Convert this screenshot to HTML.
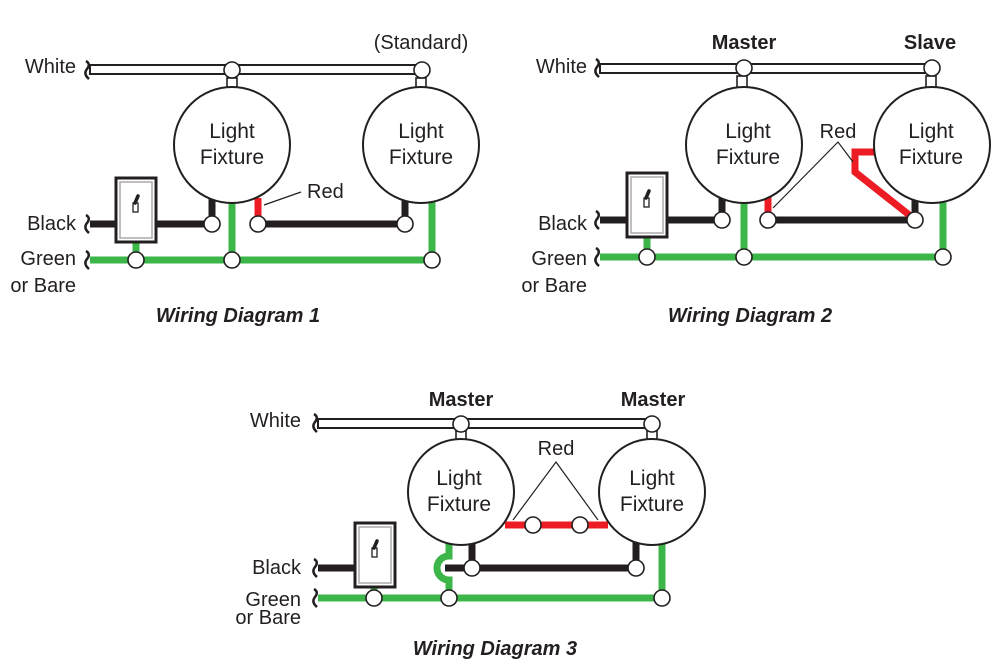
<!DOCTYPE html>
<html><head><meta charset="utf-8"><style>
html,body{margin:0;padding:0;background:#fff;}
svg{display:block;}
text{font-family:"Liberation Sans",sans-serif;fill:#231f20;}
.l{font-size:20px;}
.f{font-size:21px;}
.b{font-size:20px;font-weight:bold;}
.t{font-size:20px;font-weight:bold;font-style:italic;}
.n{fill:#fff;stroke:#231f20;stroke-width:1.6;}
.bk{stroke:#231f20;stroke-width:7;fill:none;}
.gr{stroke:#3db649;stroke-width:7;fill:none;}
.rd{stroke:#ed1c24;stroke-width:7;fill:none;}
.c{fill:#fff;stroke:#231f20;stroke-width:2;}
.sq{fill:none;stroke:#231f20;stroke-width:2.5;}
.ld{stroke:#231f20;stroke-width:1.2;fill:none;}
</style></head><body>
<svg width="1006" height="662" viewBox="0 0 1006 662" xmlns="http://www.w3.org/2000/svg">
<defs>
<g id="sw">
<rect x="0" y="0" width="40" height="64" fill="#fff" stroke="#231f20" stroke-width="3"/>
<rect x="4" y="4" width="32" height="56" fill="none" stroke="#aaa" stroke-width="1.5"/>
<rect x="17" y="25" width="5" height="9" fill="#fff" stroke="#231f20" stroke-width="1.3"/>
<path d="M19 25 L22 18" stroke="#231f20" stroke-width="3.5" stroke-linecap="round"/>
</g>
<path id="sqg" d="M-2,-9 q5,3 1,8 q-4,5 2,10" class="sq"/>
</defs>

<!-- ===== Diagram 1 ===== -->
<text class="l" x="76" y="73" text-anchor="end">White</text>
<text class="l" x="76" y="230" text-anchor="end">Black</text>
<text class="l" x="76" y="265" text-anchor="end">Green</text>
<text class="l" x="76" y="292" text-anchor="end">or Bare</text>
<text class="l" x="421" y="49" text-anchor="middle">(Standard)</text>
<rect x="90" y="65" width="332" height="9" fill="#fff" stroke="#231f20" stroke-width="2"/>
<rect x="227" y="78" width="10" height="12" fill="#fff" stroke="#231f20" stroke-width="1.6"/>
<rect x="416" y="78" width="10" height="12" fill="#fff" stroke="#231f20" stroke-width="1.6"/>
<use href="#sqg" x="88" y="70"/>
<line class="bk" x1="90" y1="224" x2="212" y2="224"/>
<line class="bk" x1="212" y1="195" x2="212" y2="224"/>
<line class="bk" x1="258" y1="224" x2="405" y2="224"/>
<line class="bk" x1="405" y1="195" x2="405" y2="224"/>
<line class="rd" x1="258" y1="198" x2="258" y2="218"/>
<line class="gr" x1="90" y1="260" x2="432" y2="260"/>
<line class="gr" x1="232" y1="200" x2="232" y2="260"/>
<line class="gr" x1="432" y1="190" x2="432" y2="260"/>
<line class="gr" x1="136" y1="240" x2="136" y2="260"/>
<use href="#sqg" x="88" y="224"/>
<use href="#sqg" x="88" y="260"/>
<circle class="c" cx="232" cy="145" r="58"/>
<circle class="c" cx="421" cy="145" r="58"/>
<text class="f" x="232" y="138" text-anchor="middle">Light</text>
<text class="f" x="232" y="164" text-anchor="middle">Fixture</text>
<text class="f" x="421" y="138" text-anchor="middle">Light</text>
<text class="f" x="421" y="164" text-anchor="middle">Fixture</text>
<use href="#sw" x="116" y="178"/>
<circle class="n" cx="232" cy="70" r="8"/>
<circle class="n" cx="422" cy="70" r="8"/>
<circle class="n" cx="212" cy="224" r="8"/>
<circle class="n" cx="258" cy="224" r="8"/>
<circle class="n" cx="405" cy="224" r="8"/>
<circle class="n" cx="136" cy="260" r="8"/>
<circle class="n" cx="232" cy="260" r="8"/>
<circle class="n" cx="432" cy="260" r="8"/>
<line class="ld" x1="264" y1="205" x2="301" y2="192"/>
<text class="l" x="307" y="198">Red</text>
<text class="t" x="238" y="322" text-anchor="middle">Wiring Diagram 1</text>

<!-- ===== Diagram 2 ===== -->
<text class="l" x="587" y="73" text-anchor="end">White</text>
<text class="l" x="587" y="230" text-anchor="end">Black</text>
<text class="l" x="587" y="265" text-anchor="end">Green</text>
<text class="l" x="587" y="292" text-anchor="end">or Bare</text>
<text class="b" x="744" y="49" text-anchor="middle">Master</text>
<text class="b" x="930" y="49" text-anchor="middle">Slave</text>
<rect x="600" y="64" width="332" height="9" fill="#fff" stroke="#231f20" stroke-width="2"/>
<rect x="737" y="76" width="10" height="12" fill="#fff" stroke="#231f20" stroke-width="1.6"/>
<rect x="926" y="76" width="10" height="12" fill="#fff" stroke="#231f20" stroke-width="1.6"/>
<use href="#sqg" x="598" y="68"/>
<line class="bk" x1="600" y1="220" x2="722" y2="220"/>
<line class="bk" x1="722" y1="192" x2="722" y2="220"/>
<line class="bk" x1="768" y1="220" x2="915" y2="220"/>
<line class="bk" x1="915" y1="192" x2="915" y2="220"/>
<line class="rd" x1="768" y1="195" x2="768" y2="214"/>
<path class="rd" d="M913,218 L855,172 L855,152 L878,152"/>
<line class="gr" x1="600" y1="257" x2="943" y2="257"/>
<line class="gr" x1="744" y1="198" x2="744" y2="257"/>
<line class="gr" x1="943" y1="190" x2="943" y2="257"/>
<line class="gr" x1="647" y1="236" x2="647" y2="257"/>
<use href="#sqg" x="598" y="220"/>
<use href="#sqg" x="598" y="257"/>
<circle class="c" cx="744" cy="145" r="58"/>
<circle class="c" cx="932" cy="145" r="58"/>
<text class="f" x="748" y="138" text-anchor="middle">Light</text>
<text class="f" x="748" y="164" text-anchor="middle">Fixture</text>
<text class="f" x="931" y="138" text-anchor="middle">Light</text>
<text class="f" x="931" y="164" text-anchor="middle">Fixture</text>
<use href="#sw" x="627" y="173"/>
<circle class="n" cx="744" cy="68" r="8"/>
<circle class="n" cx="932" cy="68" r="8"/>
<circle class="n" cx="722" cy="220" r="8"/>
<circle class="n" cx="768" cy="220" r="8"/>
<circle class="n" cx="915" cy="220" r="8"/>
<circle class="n" cx="647" cy="257" r="8"/>
<circle class="n" cx="744" cy="257" r="8"/>
<circle class="n" cx="943" cy="257" r="8"/>
<path class="ld" d="M773,208 L838,142 L853,162"/>
<text class="l" x="838" y="138" text-anchor="middle">Red</text>
<text class="t" x="750" y="322" text-anchor="middle">Wiring Diagram 2</text>

<!-- ===== Diagram 3 ===== -->
<text class="l" x="301" y="427" text-anchor="end">White</text>
<text class="l" x="301" y="574" text-anchor="end">Black</text>
<text class="l" x="301" y="606" text-anchor="end">Green</text>
<text class="l" x="301" y="624" text-anchor="end">or Bare</text>
<text class="b" x="461" y="406" text-anchor="middle">Master</text>
<text class="b" x="653" y="406" text-anchor="middle">Master</text>
<rect x="318" y="419" width="334" height="9" fill="#fff" stroke="#231f20" stroke-width="2"/>
<rect x="456" y="431" width="10" height="12" fill="#fff" stroke="#231f20" stroke-width="1.6"/>
<rect x="647" y="431" width="10" height="12" fill="#fff" stroke="#231f20" stroke-width="1.6"/>
<use href="#sqg" x="316" y="423"/>
<line class="rd" x1="505" y1="525" x2="608" y2="525"/>
<line class="bk" x1="318" y1="568" x2="390" y2="568"/>
<line class="bk" x1="445" y1="568" x2="636" y2="568"/>
<line class="bk" x1="472" y1="540" x2="472" y2="568"/>
<line class="bk" x1="636" y1="540" x2="636" y2="568"/>
<line class="gr" x1="318" y1="598" x2="662" y2="598"/>
<path class="gr" d="M449,540 L449,556 A12,12 0 0 0 449,580 L449,598"/>
<line class="gr" x1="662" y1="535" x2="662" y2="598"/>
<line class="gr" x1="374" y1="580" x2="374" y2="598"/>
<use href="#sqg" x="316" y="568"/>
<use href="#sqg" x="316" y="598"/>
<circle class="c" cx="461" cy="492" r="53"/>
<circle class="c" cx="652" cy="492" r="53"/>
<text class="f" x="459" y="485" text-anchor="middle">Light</text>
<text class="f" x="459" y="511" text-anchor="middle">Fixture</text>
<text class="f" x="652" y="485" text-anchor="middle">Light</text>
<text class="f" x="652" y="511" text-anchor="middle">Fixture</text>
<use href="#sw" x="355" y="523"/>
<circle class="n" cx="461" cy="424" r="8"/>
<circle class="n" cx="652" cy="424" r="8"/>
<circle class="n" cx="533" cy="525" r="8"/>
<circle class="n" cx="580" cy="525" r="8"/>
<circle class="n" cx="472" cy="568" r="8"/>
<circle class="n" cx="636" cy="568" r="8"/>
<circle class="n" cx="374" cy="598" r="8"/>
<circle class="n" cx="449" cy="598" r="8"/>
<circle class="n" cx="662" cy="598" r="8"/>
<path class="ld" d="M513,520 L556,462 L598,520"/>
<text class="l" x="556" y="455" text-anchor="middle">Red</text>
<text class="t" x="495" y="655" text-anchor="middle">Wiring Diagram 3</text>
</svg>
</body></html>
